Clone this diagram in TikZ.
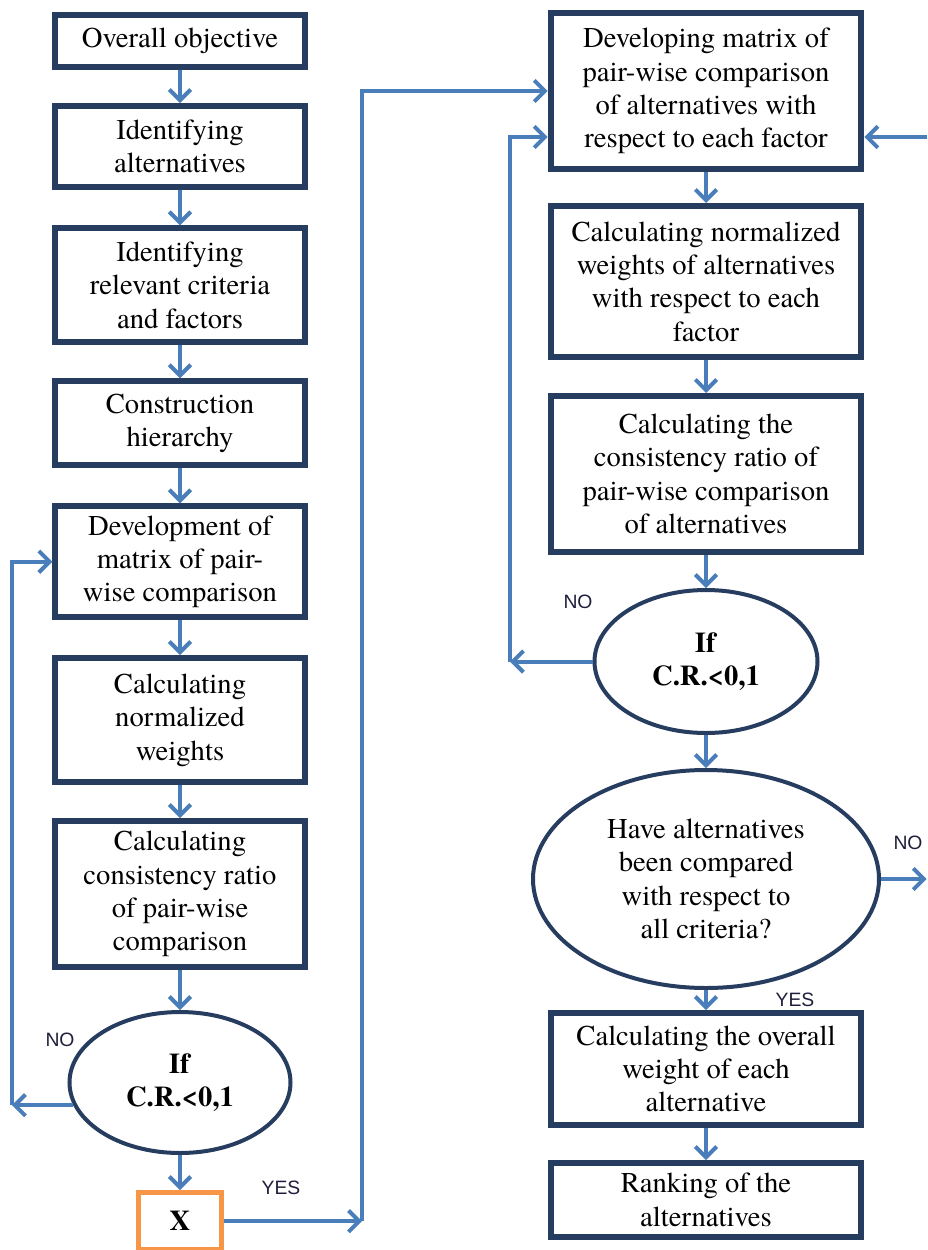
\documentclass[tikz,border=0pt]{standalone}
\usepackage{fontspec}
\IfFontExistsTF{texgyretermes-regular.otf}{%
  \setmainfont{texgyretermes}[Extension=.otf, UprightFont=*-regular, BoldFont=*-bold, ItalicFont=*-italic, BoldItalicFont=*-bolditalic]}{}
\newfontfamily\labelfont{Liberation Sans}
\usepackage{xcolor}
\usepackage{tikz}
\usetikzlibrary{shapes.geometric,arrows.meta,positioning,calc}

\definecolor{boxnavy}{RGB}{38,61,96}
\definecolor{linkblue}{RGB}{74,126,187}
\definecolor{xorange}{RGB}{247,150,70}
\definecolor{lbltext}{RGB}{30,30,60}

\begin{document}
\begin{tikzpicture}[
  x=1pt, y=-1pt,
  font=\rmfamily\fontsize{21.5}{25}\selectfont,
  box/.style={rectangle, draw=boxnavy, line width=4.5pt, fill=white, align=center, inner sep=2pt, minimum width=187pt},
  rbox/.style={box, minimum width=233pt},
  cond/.style={ellipse, draw=boxnavy, line width=3pt, fill=white, align=center, inner sep=1pt},
  xbox/.style={rectangle, draw=xorange, line width=3.75pt, fill=white, minimum width=62pt, minimum height=43pt, font=\rmfamily\fontsize{21.5}{25}\selectfont\bfseries},
  lbl/.style={font=\labelfont\fontsize{14.5}{17}\selectfont, text=lbltext},
  arrow/.style={-{Straight Barb[length=8pt,width=16pt]}, line width=3pt, draw=linkblue}
]
\useasboundingbox (0,0) rectangle (696,937.5);

% Left column
\node[box, minimum height=39pt] (obj) at (135,30.75) {Overall objective};
\node[box, minimum height=61pt, below=24.75pt of obj] (alt) {Identifying\\alternatives};
\node[box, minimum height=85.5pt, below=26.25pt of alt] (crit) {Identifying\\relevant criteria\\and factors};
\node[box, minimum height=63pt, below=24.75pt of crit] (hier) {Construction\\hierarchy};
\node[box, minimum height=83pt, below=26.25pt of hier] (dev) {Development of\\matrix of pair-\\wise comparison};
\node[box, minimum height=93pt, below=26.25pt of dev] (norm) {Calculating\\normalized\\weights};
\node[box, minimum height=109.5pt, below=24.75pt of norm] (cons) {Calculating\\consistency ratio\\of pair-wise\\comparison};
\node[cond, minimum width=165.75pt, minimum height=105.75pt, below=30pt of cons] (crl) {\textbf{If}\\\textbf{C.R.<0,1}};
\node[xbox, below=26.25pt of crl] (x) {X};

\draw[arrow] (obj) -- (alt);
\draw[arrow] (alt) -- (crit);
\draw[arrow] (crit) -- (hier);
\draw[arrow] (hier) -- (dev);
\draw[arrow] (dev) -- (norm);
\draw[arrow] (norm) -- (cons);
\draw[arrow] (cons) -- (crl);
\draw[arrow] (crl) -- (x);

% Right column
\node[rbox, minimum height=117pt] (rdev) at (529.5,68.25) {Developing matrix of\\pair-wise comparison\\of alternatives with\\respect to each factor};
\node[rbox, minimum height=113.25pt, below=23.25pt of rdev] (rnorm) {Calculating normalized\\weights of alternatives\\with respect to each\\factor};
\node[rbox, minimum height=117pt, below=24.75pt of rnorm] (rcons) {Calculating the\\consistency ratio of\\pair-wise comparison\\of alternatives};
\node[cond, minimum width=167.25pt, minimum height=107.25pt, below=24.75pt of rcons] (crr) {\textbf{If}\\\textbf{C.R.<0,1}};
\node[cond, minimum width=259.5pt, minimum height=163.5pt, below=24.75pt of crr] (done) {Have alternatives\\been compared\\with respect to\\all criteria?};
\node[rbox, minimum height=84pt, below=15pt of done] (total) {Calculating the overall\\weight of each\\alternative};
\node[rbox, minimum height=55.5pt, below=24pt of total] (rank) {Ranking of the\\alternatives};

\draw[arrow] (rdev) -- (rnorm);
\draw[arrow] (rnorm) -- (rcons);
\draw[arrow] (rcons) -- (crr);
\draw[arrow] (crr) -- (done);
\draw[arrow] (done) -- (total);
\draw[arrow] (total) -- (rank);

% Loops and links
\coordinate (busL) at (9,0);
\coordinate (busM) at (271.5,0);
\coordinate (busR) at (382.5,0);
\coordinate (edge) at (695,0);
\coordinate (rinW) at ([yshift=-34.5pt]rdev.west);
\coordinate (rinE) at ([yshift=-34.5pt]rdev.east);

\draw[arrow] (crl.192) -- (crl.192 -| busL);
\draw[arrow] (crl.192 -| busL) |- (dev.west);

\draw[arrow] (x) -- (x -| busM);
\draw[arrow] (x -| busM) |- (rdev.west);

\draw[arrow] (crr.west) -- (crr.west -| busR);
\draw[arrow] (crr.west -| busR) |- (rinW);

\draw[arrow] (rinE -| edge) -- (rinE);
\draw[arrow] (done.east) -- (done.east -| edge);

% Labels
\node[lbl] (no1) at (45,780) {NO};
\node[lbl] (yes1) at (210.75,891) {YES};
\node[lbl] (no2) at (433.5,451.5) {NO};
\node[lbl] (no3) at (681,632.25) {NO};
\node[lbl] (yes2) at (596.25,750) {YES};

\end{tikzpicture}
\end{document}
